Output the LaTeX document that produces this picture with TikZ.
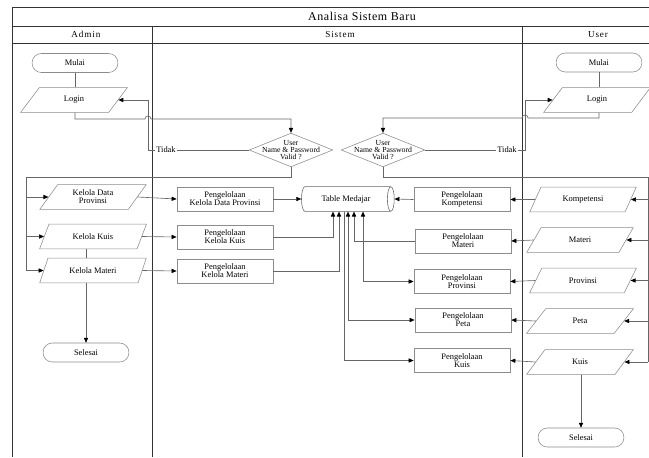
\documentclass[tikz,border=0pt]{standalone}
\usepackage{fontspec}
\setmainfont{Liberation Serif}
\usetikzlibrary{shapes.geometric,arrows.meta,calc}
\begin{document}
\begin{tikzpicture}[x=0.05cm,y=-0.05cm,
        font=\fontsize{12}{11.5}\selectfont,
        lane/.style={line width=1.1pt,draw=black!80},
        flow/.style={line width=0.9pt,draw=black!60},
        arrow/.style={flow,-{Triangle[length=7pt,width=6pt,black]}},
        biarrow/.style={flow,{Triangle[length=7pt,width=6pt,black]}-{Triangle[length=7pt,width=6pt,black]}},
        terminal/.style={draw=black!45,line width=0.8pt,rounded corners=13pt,minimum width=122pt,minimum height=27pt,inner sep=0pt},
        io/.style={trapezium,trapezium left angle=54,trapezium right angle=126,trapezium stretches=true,draw=black!45,line width=0.8pt,minimum width=152pt,minimum height=35pt,inner sep=0pt,align=center},
        process/.style={rectangle,draw=black!45,line width=0.8pt,minimum width=137pt,minimum height=34pt,inner sep=0pt,align=center},
        decision/.style={diamond,draw=black!45,line width=0.8pt,minimum width=119pt,minimum height=48pt,inner sep=0pt},
        dtext/.style={align=center,inner sep=0pt,font=\fontsize{11}{9.5}\selectfont},
        store/.style={cylinder,shape border rotate=0,draw=black!60,line width=0.8pt,minimum width=35pt,minimum height=132pt,aspect=0.9,inner sep=0pt}]
    \useasboundingbox (0,0) rectangle (649,457);

    % Lanes
    \draw[lane] (12,457) -- (12,7) -- (649,7);
    \draw[lane] (12,26) -- (649,26);
    \draw[lane] (12,43) -- (649,43);
    \draw[lane] (152,26) -- (152,457);
    \draw[lane] (522,26) -- (522,457);
    \node[font=\fontsize{17}{17}\selectfont\addfontfeature{LetterSpace=5}] (judul) at (362,16) {Analisa Sistem Baru};
    \node[font=\fontsize{13}{13}\selectfont\addfontfeature{LetterSpace=10}] (admin) at (86,34.5) {Admin};
    \node[font=\fontsize{13}{13}\selectfont\addfontfeature{LetterSpace=10}] (sistem) at (340,34.5) {Sistem};
    \node[font=\fontsize{13}{13}\selectfont\addfontfeature{LetterSpace=10}] (user) at (598,34.5) {User};

    % Admin
    \node[terminal] (mulaiA) at (75,63) {Mulai};
    \node[io] (loginA) at (74,100) {Login};
    \node[io] (kelDataProv) at (93,197) {Kelola Data\\Provinsi};
    \node[io] (kelKuis) at (93,236.5) {Kelola Kuis};
    \node[io] (kelMateri) at (93,270.5) {Kelola Materi};
    \node[terminal] (selesaiA) at (86,352.5) {Selesai};

    % Sistem
    \node[decision] (diaA) at (291,150) {};
    \node[dtext] (diaAtxt) at (diaA) {User\\Name \& Password\\Valid ?};
    \node[inner sep=1pt] (tidakA) at (166,150) {Tidak};
    \node[decision] (diaB) at (383,150) {};
    \node[dtext] (diaBtxt) at (diaB) {User\\Name \& Password\\Valid ?};
    \node[inner sep=1pt] (tidakB) at (507,150) {Tidak};
    \node[process] (pKDP) at (225,199) {Pengelolaan\\Kelola Data Provinsi};
    \node[process] (pKK) at (225,237) {Pengelolaan\\Kelola Kuis};
    \node[process] (pKM) at (225,271) {Pengelolaan\\Kelola Materi};
    \node[store] (table) at (346,199) {Table Medajar};
    \node[process] (pKomp) at (462,199.5) {Pengelolaan\\Kompetensi};
    \node[process] (pMat) at (463,241) {Pengelolaan\\Materi};
    \node[process] (pProv) at (462,281.5) {Pengelolaan\\Provinsi};
    \node[process] (pPeta) at (463,320) {Pengelolaan\\Peta};
    \node[process] (pKuis) at (462,360.5) {Pengelolaan\\Kuis};

    % User
    \node[terminal] (mulaiU) at (599,62.5) {Mulai};
    \node[io] (loginU) at (597,100) {Login};
    \node[io] (komp) at (583,199.5) {Kompetensi};
    \node[io] (mat) at (580,240) {Materi};
    \node[io] (prov) at (583,280.5) {Provinsi};
    \node[io] (peta) at (580,321) {Peta};
    \node[io] (kuis) at (580,362) {Kuis};
    \node[terminal] (selesaiU) at (581,437.5) {Selesai};

    \coordinate (hopA) at (148,119);
    \coordinate (turnA) at (148,150);
    \coordinate (railA) at (26,177);
    \coordinate (hopB) at (525,118);
    \coordinate (turnB) at (525,150);
    \coordinate (railU) at (648,177);
    \coordinate (tp1) at ($(table.south)+(-13,0)$);
    \coordinate (tp2) at ($(table.south)+(-7,0)$);
    \coordinate (tp3) at ($(table.south)+(-2,0)$);
    \coordinate (tp4) at ($(table.south)+(2,0)$);
    \coordinate (tp5) at ($(table.south)+(8,0)$);
    \coordinate (tp6) at ($(table.south)+(17,0)$);

    % Admin flow
    \draw[flow] (mulaiA.south) -- (mulaiA.south |- loginA.north);
    \draw[arrow] (loginA.south -| mulaiA.south) |- ($(hopA)+(-3,0)$) arc[start angle=180,end angle=360,radius=3] -| (diaA.north);
    \draw[flow] (diaA.west) -- (tidakA.east);
    \draw[arrow] (tidakA.west) -- (turnA) |- (loginA.east);
    \draw[flow] (diaA.south) |- (railA) -- (railA |- kelMateri.west);
    \draw[arrow] (railA |- kelDataProv.west) -- (kelDataProv.west);
    \draw[arrow] (railA |- kelKuis.west) -- (kelKuis.west);
    \draw[arrow] (railA |- kelMateri.west) -- (kelMateri.west);
    \draw[flow] (selesaiA.north |- kelKuis.south) -- (selesaiA.north |- kelMateri.north);
    \draw[arrow] (selesaiA.north |- kelMateri.south) -- (selesaiA.north);
    \draw[arrow] (kelDataProv.east) -- (pKDP.west);
    \draw[arrow] (kelKuis.east) -- (pKK.west);
    \draw[arrow] (kelMateri.east) -- (pKM.west);

    % Sistem flow
    \draw[arrow] (pKDP.east) -- (table.west);
    \draw[arrow] (pKK.east) -| (tp1);
    \draw[arrow] (pKM.east) -| (tp2);
    \draw[arrow] (tp3) |- (pKuis.west);
    \draw[biarrow] (tp4) |- (pPeta.west);
    \draw[arrow] (pMat.west) -| (tp5);
    \draw[biarrow] (tp6) |- (pProv.west);
    \draw[arrow] (pKomp.west) -- (table.east);

    % User flow
    \draw[flow] (mulaiU.south) -- (mulaiU.south |- loginU.north);
    \draw[arrow] (loginU.south -| mulaiU.south) |- ($(hopB)+(3,0)$) arc[start angle=0,end angle=-180,radius=3] -| (diaB.north);
    \draw[flow] (diaB.east) -- (tidakB.west);
    \draw[arrow] (tidakB.east) -- (turnB) |- (loginU.west);
    \draw[flow] (diaB.south) |- (railU) -- (railU |- kuis.east);
    \draw[arrow] (railU |- komp.east) -- (komp.east);
    \draw[arrow] (railU |- mat.east) -- (mat.east);
    \draw[arrow] (railU |- prov.east) -- (prov.east);
    \draw[arrow] (railU |- peta.east) -- (peta.east);
    \draw[arrow] (railU |- kuis.east) -- (kuis.east);
    \draw[arrow] (komp.west) -- (pKomp.east);
    \draw[arrow] (mat.west) -- (pMat.east);
    \draw[arrow] (prov.west) -- (pProv.east);
    \draw[arrow] (peta.west) -- (pPeta.east);
    \draw[arrow] (kuis.west) -- (pKuis.east);
    \draw[arrow] (kuis.south -| selesaiU.north) -- (selesaiU.north);
\end{tikzpicture}
\end{document}
